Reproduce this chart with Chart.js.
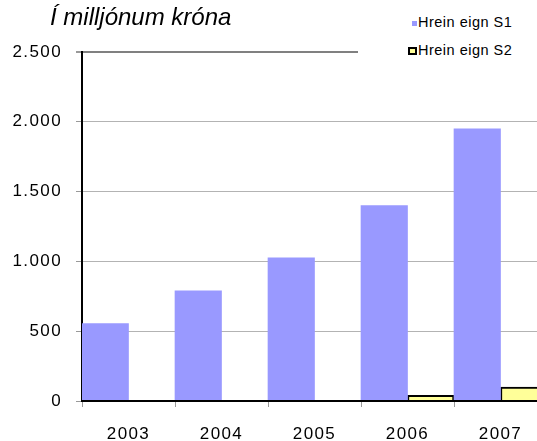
<!DOCTYPE html>
<html>
<head>
<meta charset="utf-8">
<script src="https://cdn.jsdelivr.net/npm/chart.js@4"></script>
<style>
  body{margin:0;width:537px;height:441px;overflow:hidden;background:#fff;font-family:"Liberation Sans",Arial,sans-serif;}
  #wrap{position:relative;width:560px;height:441px;}
  #sub{position:absolute;left:50px;top:5px;font-style:italic;font-size:24px;line-height:24px;color:#000;white-space:nowrap;}
  #legend{position:absolute;left:358px;top:0;width:200px;height:62px;background:#fff;}
  .lg{position:absolute;left:60px;font-size:14.5px;line-height:14.5px;letter-spacing:0.5px;white-space:nowrap;}
  .mk{position:absolute;box-sizing:border-box;}
</style>
</head>
<body>
<div id="wrap">
  <canvas id="c" width="560" height="441"></canvas>
  <div id="sub">Í milljónum króna</div>
  <div id="legend"></div>
</div>
<script>
const YEARS = ['2003','2004','2005','2006','2007'];
const S1_NAME = 'Hrein eign S1';
const S2_NAME = 'Hrein eign S2';
const S1 = [555, 790, 1025, 1400, 1950];
const S2 = [0, 0, 0, 40, 100];
const Y_TICKS = [0, 500, 1000, 1500, 2000, 2500];

const fmtN = v => String(v).replace(/\B(?=(\d{3})+(?!\d))/g, '.');

// legend (html so it stays real text)
document.getElementById('legend').innerHTML =
  `<div class="mk" style="left:54px;top:21px;width:5px;height:5px;background:#9999ff;"></div>
   <div class="lg" style="top:15px;">${S1_NAME}</div>
   <div class="mk" style="left:50px;top:47px;width:9px;height:8px;background:#ffff99;border:2px solid #000;"></div>
   <div class="lg" style="top:43px;">${S2_NAME}</div>`;

const spacing = { id:'spacing', beforeDraw(ch){ ch.ctx.letterSpacing = '1.4px'; } };

new Chart(document.getElementById('c'), {
  type:'bar',
  data:{ labels:YEARS, datasets:[
    {label:S1_NAME, data:S1, backgroundColor:'#9999ff', borderWidth:0, categoryPercentage:1, barPercentage:1},
    {label:S2_NAME, data:S2, backgroundColor:'#ffff99', borderColor:'#000',
     borderWidth:c=>c.raw ? 2 : 0, borderSkipped:'start', categoryPercentage:1, barPercentage:1}
  ]},
  options:{
    responsive:false, animation:false,
    layout:{padding:{top:52, right:13, left:0, bottom:0}},
    plugins:{legend:{display:false}, tooltip:{enabled:false}},
    scales:{
      x:{
        offset:true,
        grid:{drawOnChartArea:false, drawTicks:true, tickLength:6, tickColor:'#999', offset:true},
        border:{color:'#000', width:2, z:1},
        ticks:{color:'#000', font:{family:'"Liberation Sans", Arial', size:17}, padding:17, maxRotation:0},
        afterFit(s){ s.height = 40; }
      },
      y:{
        min:0, max:2500,
        afterBuildTicks(s){ s.ticks = Y_TICKS.map(v=>({value:v})); },
        grid:{
          color:c=>c.tick && c.tick.value===2500 ? '#808080' : '#b3b3b3',
          lineWidth:c=>c.tick && c.tick.value===2500 ? 2 : 1,
          tickLength:6, tickColor:'#999'
        },
        border:{color:'#000', width:2},
        ticks:{color:'#000', font:{family:'"Liberation Sans", Arial', size:17}, padding:14, callback:v=>fmtN(v)},
        afterFit(s){ s.width = 82; }
      }
    }
  },
  plugins:[spacing]
});
</script>
</body>
</html>
